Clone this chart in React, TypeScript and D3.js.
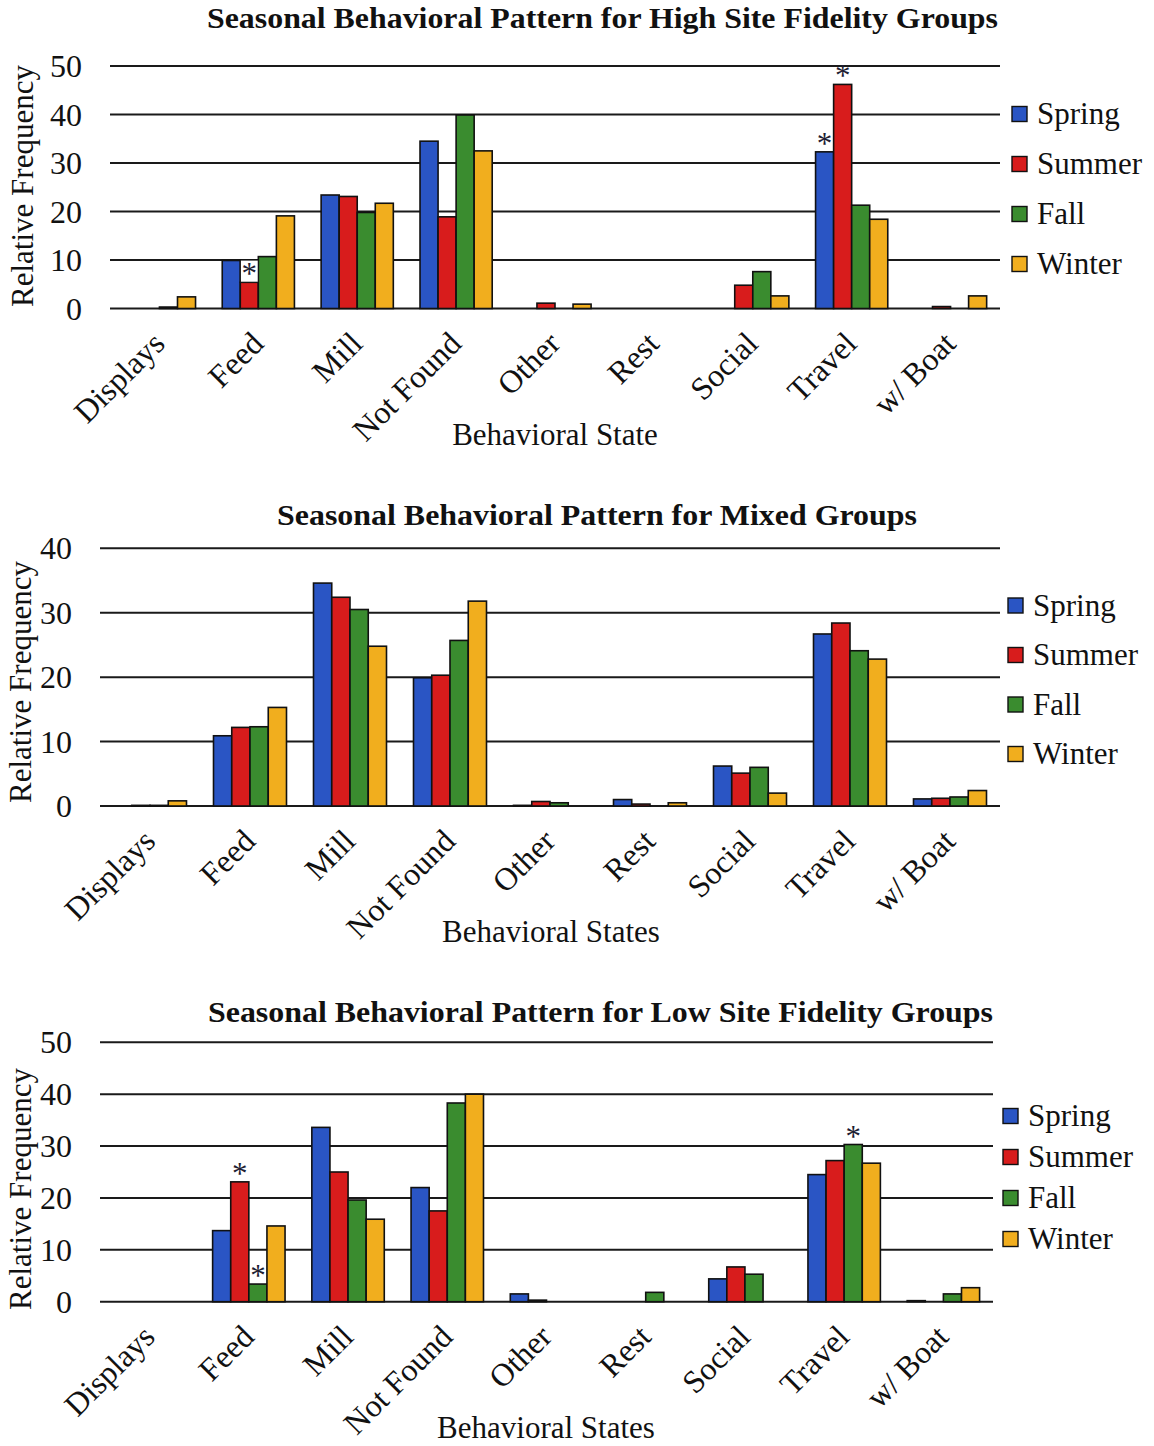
import React from "react";
import * as d3 from "d3";

// Behavioral states on the x axis
const categories = ["Displays", "Feed", "Mill", "Not Found", "Other", "Rest", "Social", "Travel", "w/ Boat"];
const seasons = ["Spring", "Summer", "Fall", "Winter"];
const seasonColors = ["#2a55c4", "#d81c1c", "#3a8c2f", "#f1ae1e"];

// High site fidelity groups (relative frequency, %)
const highSpring = [0, 9.9, 23.4, 34.5, 0, 0, 0, 32.3, 0];
const highSummer = [0, 5.4, 23.1, 18.9, 1.1, 0, 4.8, 46.2, 0.4];
const highFall = [0.3, 10.7, 19.8, 39.9, 0, 0, 7.6, 21.3, 0];
const highWinter = [2.4, 19.1, 21.7, 32.5, 0.9, 0, 2.6, 18.4, 2.6];

// Mixed groups
const mixedSpring = [0, 10.9, 34.6, 19.9, 0.1, 1.0, 6.2, 26.7, 1.1];
const mixedSummer = [0.1, 12.2, 32.4, 20.3, 0.7, 0.3, 5.1, 28.4, 1.2];
const mixedFall = [0.1, 12.3, 30.5, 25.7, 0.5, 0, 6.0, 24.1, 1.4];
const mixedWinter = [0.8, 15.3, 24.8, 31.8, 0, 0.5, 2.0, 22.8, 2.4];

// Low site fidelity groups
const lowSpring = [0, 13.7, 33.6, 22.0, 1.5, 0, 4.4, 24.5, 0.2];
const lowSummer = [0, 23.1, 25.0, 17.5, 0.3, 0, 6.7, 27.2, 0];
const lowFall = [0, 3.4, 19.6, 38.3, 0, 1.8, 5.3, 30.3, 1.5];
const lowWinter = [0, 14.6, 15.9, 40.0, 0, 0, 0, 26.7, 2.7];

// Significance markers (category, season)
const highMarks = [
  { category: "Feed", season: "Summer", boxed: true },
  { category: "Travel", season: "Spring", boxed: false },
  { category: "Travel", season: "Summer", boxed: false },
];
const mixedMarks: { category: string; season: string; boxed: boolean }[] = [];
const lowMarks = [
  { category: "Feed", season: "Summer", boxed: false },
  { category: "Feed", season: "Fall", boxed: false },
  { category: "Travel", season: "Fall", boxed: false },
];

const highTicks = [0, 10, 20, 30, 40, 50];
const mixedTicks = [0, 10, 20, 30, 40];
const lowTicks = [0, 10, 20, 30, 40, 50];

const SERIF = "'Liberation Serif', 'Times New Roman', serif";

type PanelProps = {
  title: string;
  xTitle: string;
  series: number[][];
  ticks: number[];
  marks: { category: string; season: string; boxed: boolean }[];
  left: number;
  right: number;
  yZero: number;
  yTop: number;
  titleX: number;
  titleY: number;
  titleLen: number;
  tickRight: number;
  yTitleX: number;
  yTitleY: number;
  xTitleX: number;
  xTitleY: number;
  legendX: number;
  legendY: number;
  legendGap: number;
};

function Panel(p: PanelProps) {
  const maxTick = p.ticks[p.ticks.length - 1];
  const x0 = d3.scaleBand<string>().domain(categories).range([p.left, p.right]).padding(0);
  const groupW = x0.bandwidth() * 0.73;
  const x1 = d3.scaleBand<string>().domain(seasons).range([0, groupW]).padding(0);
  const y = d3.scaleLinear().domain([0, maxTick]).range([p.yZero, p.yTop]);
  const groupStart = (c: string) => (x0(c) as number) + (x0.bandwidth() - groupW) / 2;

  return (
    <g>
      <text
        x={p.titleX}
        y={p.titleY}
        textAnchor="middle"
        fontFamily={SERIF}
        fontWeight="bold"
        fontSize={29}
        textLength={p.titleLen}
        lengthAdjust="spacingAndGlyphs"
        fill="#111"
      >
        {p.title}
      </text>

      {/* gridlines */}
      {p.ticks.map((t) => (
        <line key={"g" + t} x1={p.left} x2={p.right} y1={y(t)} y2={y(t)} stroke="#1a1a1a" strokeWidth={2} />
      ))}
      {/* y tick labels */}
      {p.ticks.map((t) => (
        <text
          key={"t" + t}
          x={p.tickRight}
          y={y(t) + 11}
          textAnchor="end"
          fontFamily={SERIF}
          fontSize={32}
          fill="#111"
        >
          {t}
        </text>
      ))}

      {/* bars */}
      {p.series.map((vals, si) =>
        vals.map((v, ci) =>
          v > 0 ? (
            <rect
              key={`b${si}-${ci}`}
              x={groupStart(categories[ci]) + (x1(seasons[si]) as number)}
              y={y(v)}
              width={x1.bandwidth()}
              height={p.yZero - y(v)}
              fill={seasonColors[si]}
              stroke="#111"
              strokeWidth={1.6}
            />
          ) : null
        )
      )}

      {/* significance markers */}
      {p.marks.map((m, i) => {
        const si = seasons.indexOf(m.season);
        const v = p.series[si][categories.indexOf(m.category)];
        const bx = groupStart(m.category) + (x1(m.season) as number);
        const cx = bx + x1.bandwidth() / 2;
        const top = y(v);
        return (
          <g key={"m" + i}>
            {m.boxed ? (
              <rect x={bx} y={y(10)} width={x1.bandwidth()} height={top - y(10)} fill="#fff" stroke="#111" strokeWidth={1.2} />
            ) : null}
            <text x={cx} y={top - 12 + 14} textAnchor="middle" fontFamily={SERIF} fontSize={31} fill="#1d1d33">
              *
            </text>
          </g>
        );
      })}

      {/* category labels */}
      {categories.map((c) => {
        const cx = (x0(c) as number) + x0.bandwidth() / 2 + 7;
        const cy = p.yZero + 37;
        return (
          <text
            key={"c" + c}
            x={cx}
            y={cy}
            textAnchor="end"
            transform={`rotate(-45, ${cx}, ${cy})`}
            fontFamily={SERIF}
            fontSize={32}
            fill="#111"
          >
            {c}
          </text>
        );
      })}

      <text x={p.xTitleX} y={p.xTitleY} textAnchor="middle" fontFamily={SERIF} fontSize={31} fill="#111">
        {p.xTitle}
      </text>
      <text
        x={p.yTitleX}
        y={p.yTitleY}
        textAnchor="middle"
        transform={`rotate(-90, ${p.yTitleX}, ${p.yTitleY})`}
        fontFamily={SERIF}
        fontSize={31}
        fill="#111"
      >
        Relative Frequency
      </text>

      {/* legend */}
      {seasons.map((s, i) => {
        const cy = p.legendY + i * p.legendGap;
        return (
          <g key={"l" + s}>
            <rect x={p.legendX} y={cy - 7.5} width={15} height={15} fill={seasonColors[i]} stroke="#111" strokeWidth={1.4} />
            <text x={p.legendX + 25} y={cy + 10} fontFamily={SERIF} fontSize={31} fill="#111">
              {s}
            </text>
          </g>
        );
      })}
    </g>
  );
}

export default function App() {
  return (
    <svg
      width={1154}
      height={1446}
      viewBox="0 0 1154 1446"
      style={{ position: "absolute", left: 0, top: 0, background: "#fff" }}
    >
      <rect width={1154} height={1446} fill="#fff" />
      <Panel
        title="Seasonal Behavioral Pattern for High Site Fidelity Groups"
        xTitle="Behavioral State"
        series={[highSpring, highSummer, highFall, highWinter]}
        ticks={highTicks}
        marks={highMarks}
        left={110}
        right={1000}
        yZero={308.5}
        yTop={66}
        titleX={602.5}
        titleY={28}
        titleLen={791}
        tickRight={82}
        yTitleX={33}
        yTitleY={186}
        xTitleX={555}
        xTitleY={445}
        legendX={1012}
        legendY={114}
        legendGap={50}
      />
      <Panel
        title="Seasonal Behavioral Pattern for Mixed Groups"
        xTitle="Behavioral States"
        series={[mixedSpring, mixedSummer, mixedFall, mixedWinter]}
        ticks={mixedTicks}
        marks={mixedMarks}
        left={100}
        right={1000}
        yZero={806}
        yTop={548.3}
        titleX={597}
        titleY={525}
        titleLen={640}
        tickRight={72}
        yTitleX={31}
        yTitleY={682}
        xTitleX={551}
        xTitleY={942}
        legendX={1008}
        legendY={605.5}
        legendGap={49.5}
      />
      <Panel
        title="Seasonal Behavioral Pattern for Low Site Fidelity Groups"
        xTitle="Behavioral States"
        series={[lowSpring, lowSummer, lowFall, lowWinter]}
        ticks={lowTicks}
        marks={lowMarks}
        left={100}
        right={993}
        yZero={1301.7}
        yTop={1042.3}
        titleX={600.5}
        titleY={1022}
        titleLen={785}
        tickRight={72}
        yTitleX={31}
        yTitleY={1189}
        xTitleX={546}
        xTitleY={1438}
        legendX={1003}
        legendY={1116}
        legendGap={41}
      />
    </svg>
  );
}
